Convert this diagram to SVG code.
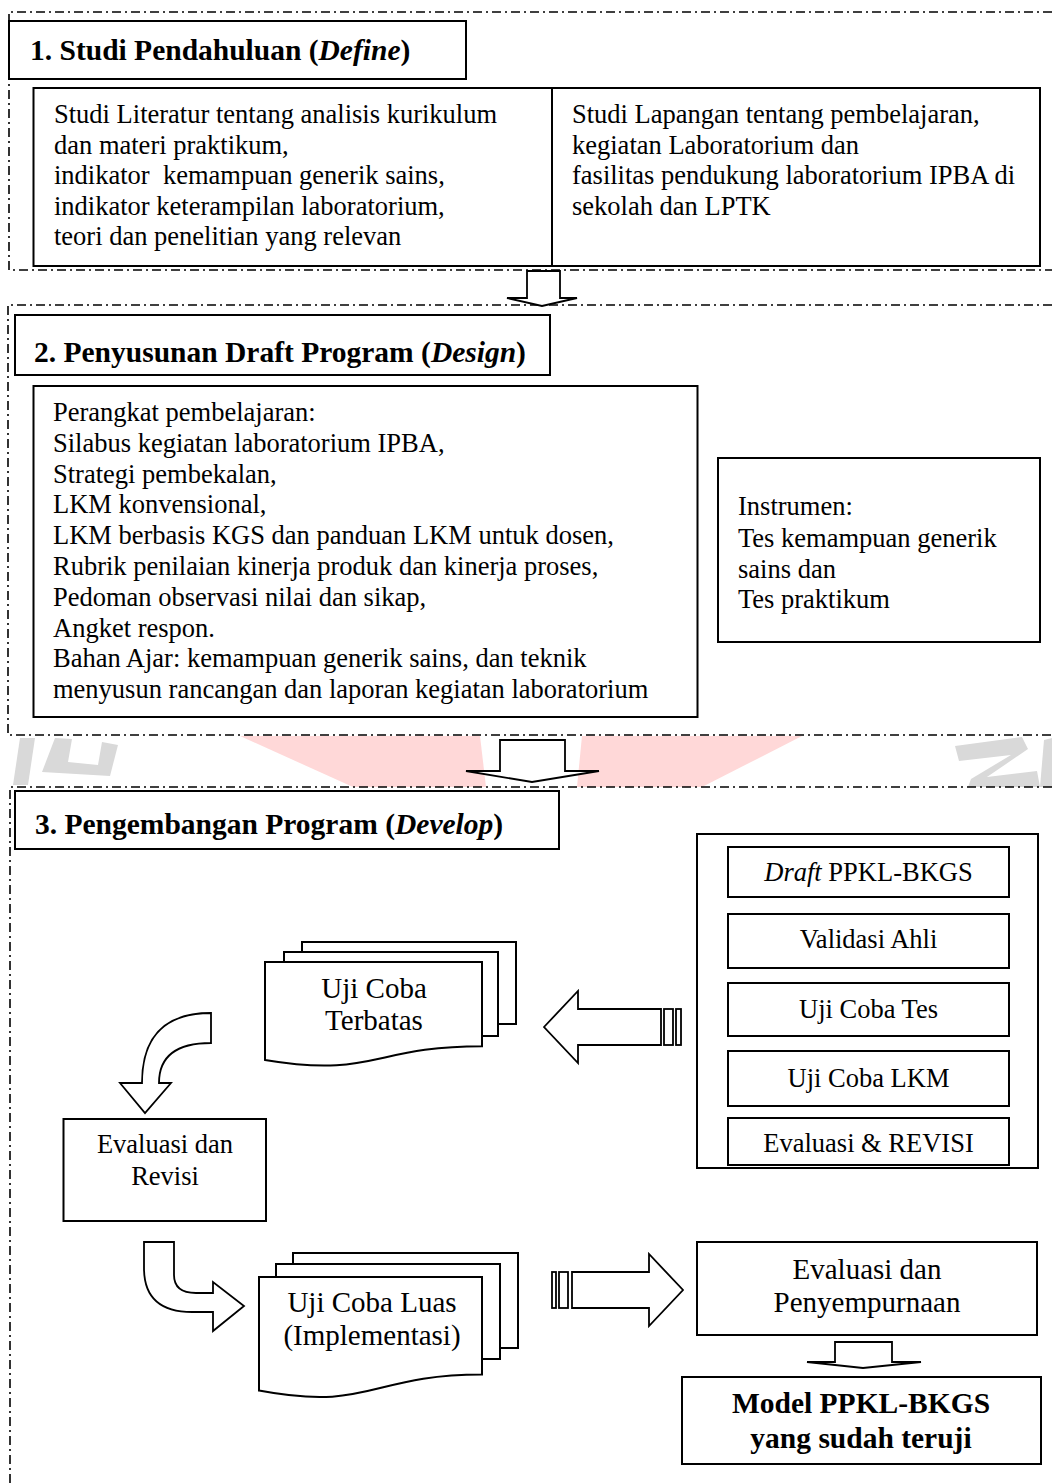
<svg xmlns="http://www.w3.org/2000/svg" width="1052" height="1484" viewBox="0 0 1052 1484">
<style>
.sec{fill:none;stroke:#000;stroke-width:1.6;stroke-dasharray:9 4 2 4}
.box{fill:#fff;stroke:#000;stroke-width:2}
.arr{fill:#fff;stroke:#000;stroke-width:1.8;stroke-linejoin:miter}
.t{font-family:"Liberation Serif","Times New Roman",serif;font-size:26.5px;fill:#000}
.c{text-anchor:middle}
.h{font-family:"Liberation Serif","Times New Roman",serif;font-size:29.5px;font-weight:bold;fill:#000}
.l{font-family:"Liberation Serif","Times New Roman",serif;font-size:29px;fill:#000;text-anchor:middle}
.wp{fill:#ffd8d8}
.wg{fill:#d9d9d9}
</style>
<g id="watermark">
<polygon class="wp" points="240,736 480,736 486,787 353,787"/>
<polygon class="wp" points="582,736 802,736 702,787 577,787"/>
<polygon class="wg" points="20,738 35,738 28,785 13,785"/>
<polygon class="wg" points="55,738 72,739 68,762 98,765 102,742 118,745 110,776 42,772"/>
<polygon class="wg" points="955,746 1022,737 1028,749 987,777 1037,771 1040,787 968,787 971,779 1011,755 959,761"/>
<polygon class="wg" points="1044,740 1052,738 1052,787 1040,787"/>
</g>
<g id="sections">
<polyline class="sec" points="1052,12 9,12 9,270 1052,270"/>
<polyline class="sec" points="1052,305 8,305 8,735 1052,735"/>
<polyline class="sec" points="1052,787 10,787 10,1484"/>
</g>
<g id="connectors">
<polygon class="arr" points="527,271 560,271 560,298 577,298 542,306 507,298 527,298"/>
<polygon class="arr" points="500,740 565,740 565,771 599,771 532,782 466,771 500,771"/>
<polygon class="arr" points="835,1342 892,1342 892,1362 921,1362 863,1368 807,1362 835,1362"/>
<path class="arr" d="M211,1013 Q142,1013 142,1083 L120,1083 L145,1113 L171,1083 L159,1083 Q159,1043 211,1043 Z"/>
<path class="arr" d="M144,1242 L174,1242 L174,1275 Q174,1293 196,1293 L213,1293 L213,1282 L244,1306 L213,1331 L213,1312 L192,1312 Q144,1312 144,1268 Z"/>
<g id="striped-left">
<polygon class="arr" points="544,1027 578,991 578,1009 661,1009 661,1045 578,1045 578,1063"/>
<rect class="arr" x="664" y="1009" width="9" height="36"/>
<rect class="arr" x="676" y="1009" width="5" height="36"/>
</g>
<g id="striped-right">
<rect class="arr" x="552" y="1272" width="4" height="36"/>
<rect class="arr" x="559" y="1272" width="9" height="36"/>
<polygon class="arr" points="572,1272 649,1272 649,1254 683,1290 649,1326 649,1308 572,1308"/>
</g>
</g>
<g id="n1-header">
<rect class="box" x="9" y="21" width="457" height="58"/>
<text class="h" x="30" y="60">1. Studi Pendahuluan (<tspan font-style="italic">Define</tspan>)</text>
</g>
<g id="n1-content">
<rect class="box" x="33.5" y="88" width="1006.5" height="178"/>
<line x1="552" y1="88" x2="552" y2="266" stroke="#000" stroke-width="2"/>
<text class="t" x="54" y="123" xml:space="preserve">Studi Literatur tentang analisis kurikulum<tspan x="54" y="153.6">dan materi praktikum,</tspan><tspan x="54" y="184.2">indikator  kemampuan generik sains,</tspan><tspan x="54" y="214.8">indikator keterampilan laboratorium,</tspan><tspan x="54" y="245.4">teori dan penelitian yang relevan</tspan></text>
<text class="t" x="572" y="123">Studi Lapangan tentang pembelajaran,<tspan x="572" y="153.6">kegiatan Laboratorium dan</tspan><tspan x="572" y="184.2">fasilitas pendukung laboratorium IPBA di</tspan><tspan x="572" y="214.8">sekolah dan LPTK</tspan></text>
</g>
<g id="n2-header">
<rect class="box" x="15" y="315" width="535" height="60"/>
<text class="h" x="34" y="362">2. Penyusunan Draft Program (<tspan font-style="italic">Design</tspan>)</text>
</g>
<g id="n2-perangkat">
<rect class="box" x="33.5" y="386" width="664" height="331"/>
<text class="t" x="53" y="421">Perangkat pembelajaran:<tspan x="53" y="451.8">Silabus kegiatan laboratorium IPBA,</tspan><tspan x="53" y="482.6">Strategi pembekalan,</tspan><tspan x="53" y="513.4">LKM konvensional,</tspan><tspan x="53" y="544.2">LKM berbasis KGS dan panduan LKM untuk dosen,</tspan><tspan x="53" y="575">Rubrik penilaian kinerja produk dan kinerja proses,</tspan><tspan x="53" y="605.8">Pedoman observasi nilai dan sikap,</tspan><tspan x="53" y="636.6">Angket respon.</tspan><tspan x="53" y="667.4">Bahan Ajar: kemampuan generik sains, dan teknik</tspan><tspan x="53" y="698.2">menyusun rancangan dan laporan kegiatan laboratorium</tspan></text>
</g>
<g id="n2-instrumen">
<rect class="box" x="718" y="458" width="322" height="184"/>
<text class="t" x="738" y="515">Instrumen:<tspan x="738" y="547">Tes kemampuan generik</tspan><tspan x="738" y="578">sains dan</tspan><tspan x="738" y="608">Tes praktikum</tspan></text>
</g>
<g id="n3-header">
<rect class="box" x="15" y="791" width="544" height="58"/>
<text class="h" x="35" y="834">3. Pengembangan Program (<tspan font-style="italic">Develop</tspan>)</text>
</g>
<g id="n3-stages">
<rect class="box" x="697" y="834" width="341" height="334"/>
<rect class="box" x="728" y="847" width="281" height="50"/>
<text class="t c" x="868.5" y="881"><tspan font-style="italic">Draft</tspan> PPKL-BKGS</text>
<rect class="box" x="728" y="914" width="281" height="54"/>
<text class="t c" x="868.5" y="948">Validasi Ahli</text>
<rect class="box" x="728" y="983" width="281" height="53"/>
<text class="t c" x="868.5" y="1018">Uji Coba Tes</text>
<rect class="box" x="728" y="1051" width="281" height="55"/>
<text class="t c" x="868.5" y="1087">Uji Coba LKM</text>
<rect class="box" x="728" y="1118" width="281" height="47"/>
<text class="t c" x="868.5" y="1152">Evaluasi &amp; REVISI</text>
</g>
<g id="n3-terbatas">
<rect class="box" x="302" y="942" width="214" height="82"/>
<rect class="box" x="284" y="952" width="214" height="84"/>
<path class="box" d="M265,962 L482,962 L482,1046.2 C373.5,1046.2 373.5,1078.3 265,1060 Z"/>
<text class="l" x="374" y="998">Uji Coba</text>
<text class="l" x="374" y="1030">Terbatas</text>
</g>
<g id="n3-evaluasi-revisi">
<rect class="box" x="63.5" y="1119" width="202.5" height="102"/>
<text class="t c" x="165" y="1153">Evaluasi dan</text>
<text class="t c" x="165" y="1185">Revisi</text>
</g>
<g id="n3-luas">
<rect class="box" x="293" y="1253" width="225" height="95"/>
<rect class="box" x="276" y="1264" width="224" height="95"/>
<path class="box" d="M259,1277 L482,1277 L482,1374.5 C370.5,1374.5 370.5,1411.7 259,1390.6 Z"/>
<text class="l" x="372" y="1312">Uji Coba Luas</text>
<text class="l" x="372" y="1345">(Implementasi)</text>
</g>
<g id="n3-penyempurnaan">
<rect class="box" x="697" y="1242" width="340" height="93"/>
<text class="l" x="867" y="1279" font-size="28.5">Evaluasi dan</text>
<text class="l" x="867" y="1312" font-size="28.5">Penyempurnaan</text>
</g>
<g id="n3-model">
<rect class="box" x="682" y="1377" width="359" height="87"/>
<text class="h c" x="861" y="1413">Model PPKL-BKGS</text>
<text class="h c" x="861" y="1448">yang sudah teruji</text>
</g>
</svg>
